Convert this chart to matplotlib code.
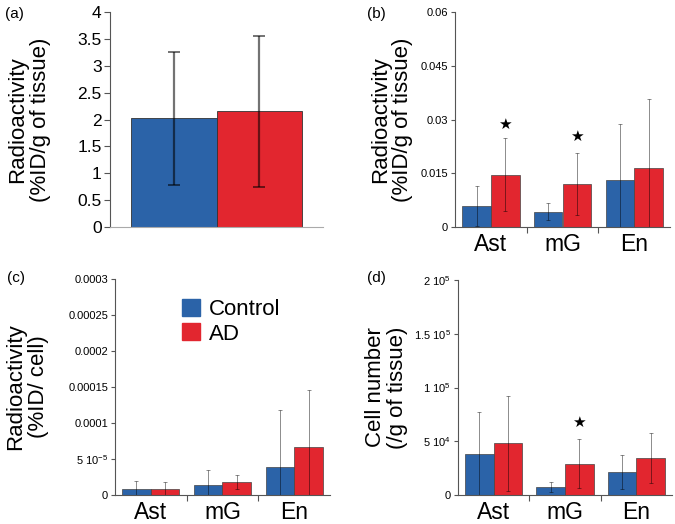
import matplotlib.pyplot as plt
import numpy as np

plt.rcParams["font.family"] = ["Liberation Sans", "DejaVu Sans"]
plt.rcParams["mathtext.fontset"] = "custom"
plt.rcParams["mathtext.rm"] = "Liberation Sans"
plt.rcParams["mathtext.it"] = "Liberation Sans:italic"

# panel (a): whole tissue
a_ctrl, a_ctrl_err = 2.02, 1.245
a_ad, a_ad_err = 2.15, 1.41

groups = ["Ast", "mG", "En"]

# panel (b): %ID/g of tissue per cell type
b_ctrl = [0.0059, 0.0043, 0.0131]
b_ctrl_err = [0.0056, 0.0024, 0.0156]
b_ad = [0.0146, 0.0120, 0.0164]
b_ad_err = [0.0102, 0.0087, 0.0194]
b_stars = {0: 0.0287, 1: 0.0253}

# panel (c): %ID per cell
c_ctrl = [8.3e-6, 1.44e-5, 3.85e-5]
c_ctrl_err = [1.1e-5, 2.0e-5, 7.9e-5]
c_ad = [7.9e-6, 1.81e-5, 6.63e-5]
c_ad_err = [1.06e-5, 1.0e-5, 7.97e-5]

# panel (d): cell number per g of tissue
d_ctrl = [37800, 7400, 21400]
d_ctrl_err = [39700, 4300, 15500]
d_ad = [48100, 29100, 34400]
d_ad_err = [44000, 22600, 22900]
d_stars = {1: 67600}

BLUE = "#2b63a8"
RED = "#e2262f"
SPINE = "#555555"

fig = plt.figure(figsize=(6.75, 5.24), dpi=100)
W, H = 675, 524


def add_axes(left, top, right, bottom):
    return fig.add_axes([left / W, 1 - bottom / H, (right - left) / W, (bottom - top) / H])


def style(ax):
    for s in ("top", "right"):
        ax.spines[s].set_visible(False)
    for s in ("left", "bottom"):
        ax.spines[s].set_color(SPINE)
        ax.spines[s].set_linewidth(0.8)
    ax.tick_params(colors=SPINE, labelcolor="black")


def group_panel(ax, ctrl, ctrl_err, ad, ad_err, ymax, yticks, ylabels, ylabel, stars, lpad):
    style(ax)
    x = np.arange(len(groups))
    ekw = dict(ecolor="black", elinewidth=0.7, capsize=1.5, capthick=0.7, alpha=0.45)
    ax.bar(x - 0.2, ctrl, 0.4, yerr=ctrl_err, color=BLUE, edgecolor="#444444",
           linewidth=0.5, error_kw=ekw)
    ax.bar(x + 0.2, ad, 0.4, yerr=ad_err, color=RED, edgecolor="#444444",
           linewidth=0.5, error_kw=ekw)
    for i, y in stars.items():
        ax.text(i + 0.2, y, "★", ha="center", va="center", fontsize=11,
                family="DejaVu Sans")
    ax.set_xlim(-0.5, 2.5)
    ax.set_ylim(0, ymax)
    ax.set_yticks(yticks)
    ax.set_yticklabels(ylabels, fontsize=8)
    ax.set_xticks([0.5, 1.5])
    ax.set_xticklabels([])
    ax.set_xticks(x, minor=True)
    ax.set_xticklabels(groups, minor=True, fontsize=16.5)
    ax.tick_params(axis="x", which="minor", length=0, pad=4)
    ax.tick_params(axis="x", which="major", length=4, direction="out")
    ax.tick_params(axis="y", length=3, pad=2)
    ax.set_ylabel(ylabel, fontsize=16, labelpad=lpad, linespacing=1.1)


# (a)
ax_a = add_axes(110, 12, 323, 227)
style(ax_a)
ekw_a = dict(ecolor="black", elinewidth=1.6, capsize=4, capthick=1.4, alpha=0.55)
ax_a.bar(-0.5, a_ctrl, 1.0, yerr=a_ctrl_err, color=BLUE, edgecolor="#333333",
         linewidth=0.6, error_kw=ekw_a)
ax_a.bar(0.5, a_ad, 1.0, yerr=a_ad_err, color=RED, edgecolor="#333333",
         linewidth=0.6, error_kw=ekw_a)
ax_a.set_xlim(-1.25, 1.25)
ax_a.set_ylim(0, 4)
ax_a.set_yticks(np.arange(0, 4.01, 0.5))
ax_a.set_yticklabels(["0", "0.5", "1", "1.5", "2", "2.5", "3", "3.5", "4"], fontsize=12.5)
ax_a.set_xticks([])
ax_a.spines["bottom"].set_color("#aaaaaa")
ax_a.tick_params(axis="y", length=4, pad=2)
ax_a.set_ylabel("Radioactivity\n(%ID/g of tissue)", fontsize=16, labelpad=19, linespacing=1.1)

# (b)
ax_b = add_axes(455, 12, 670, 227)
group_panel(ax_b, b_ctrl, b_ctrl_err, b_ad, b_ad_err, 0.06,
            [0, 0.015, 0.03, 0.045, 0.06], ["0", "0.015", "0.03", "0.045", "0.06"],
            "Radioactivity\n(%ID/g of tissue)", b_stars, 5)

# (c)
ax_c = add_axes(115, 279, 330, 495)
group_panel(ax_c, c_ctrl, c_ctrl_err, c_ad, c_ad_err, 0.0003,
            [0, 5e-5, 1e-4, 1.5e-4, 2e-4, 2.5e-4, 3e-4],
            ["0", r"5 10$^{-5}$", "0.0001", "0.00015", "0.0002", "0.00025", "0.0003"],
            "Radioactivity\n(%ID/ cell)", {}, 14)
handles = [plt.Rectangle((0, 0), 1, 1, color=BLUE), plt.Rectangle((0, 0), 1, 1, color=RED)]
ax_c.legend(handles, ["Control", "AD"], loc="upper left", bbox_to_anchor=(0.26, 0.96),
            frameon=False, fontsize=16, handlelength=0.8, handleheight=0.8,
            handletextpad=0.4, labelspacing=0.15, borderpad=0)

# (d)
ax_d = add_axes(458, 280, 672, 495)
group_panel(ax_d, d_ctrl, d_ctrl_err, d_ad, d_ad_err, 200000,
            [0, 50000, 100000, 150000, 200000],
            ["0", r"5 10$^{4}$", r"1 10$^{5}$", r"1.5 10$^{5}$", r"2 10$^{5}$"],
            "Cell number\n(/g of tissue)", d_stars, 4)

for lbl, x, y in [("(a)", 5, 14), ("(b)", 367, 14), ("(c)", 7, 278), ("(d)", 367, 278)]:
    fig.text(x / W, 1 - y / H, lbl, fontsize=11, va="center", ha="left")

fig.savefig("out.png", dpi=100)
